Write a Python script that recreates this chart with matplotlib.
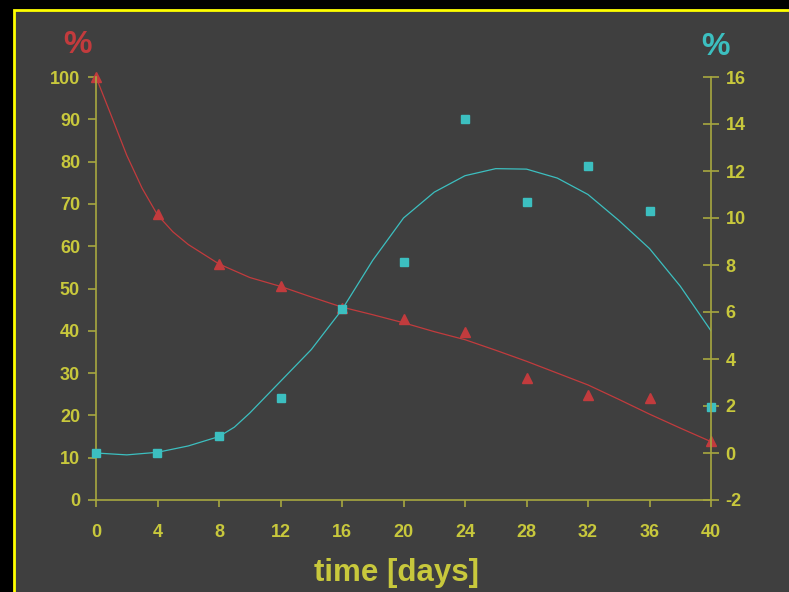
import matplotlib
matplotlib.use("Agg")
import matplotlib.pyplot as plt
from matplotlib.patches import Rectangle

# measured points
dias = [0, 4, 8, 12, 16, 20, 24, 28, 32, 36, 40]
rojo = [100, 67.6, 55.8, 50.6, 45.3, 42.8, 39.7, 28.8, 24.8, 24.1, 13.9]
cian = [0.0, 0.0, 0.72, 2.34, 6.13, 8.13, 14.2, 10.7, 12.2, 10.3, 1.96]

# trend lines
dias_rojo = [0, 1, 2, 3, 4, 5, 6, 8, 10, 12, 14, 16, 18, 20, 22, 24, 26, 28, 30, 32, 34, 36, 38, 40]
tend_rojo = [100, 90.8, 81.5, 73.7, 67.4, 63.4, 60.4, 55.8, 52.6, 50.5, 48.0, 45.6, 43.8, 41.9,
             39.8, 37.9, 35.4, 32.8, 30.0, 27.2, 23.8, 20.3, 17.0, 13.8]
dias_cian = [0, 2, 4, 6, 8, 9, 10, 12, 14, 16, 18, 20, 22, 24, 26, 28, 30, 32, 34, 36, 38, 40]
tend_cian = [0.0, -0.08, 0.03, 0.3, 0.7, 1.1, 1.7, 3.05, 4.4, 6.1, 8.2, 10.0, 11.1, 11.8, 12.1,
             12.08, 11.7, 11.0, 9.9, 8.7, 7.1, 5.2]

x_ticks = list(range(0, 41, 4))
izq_ticks = list(range(0, 101, 10))
der_ticks = list(range(-2, 17, 2))

FONDO = "#3f3f3f"
TEXTO = "#c8c83c"
EJE = "#a8a840"
ROJO = "#c23b3d"
CIAN = "#3cbfc0"

plt.rcParams["font.family"] = ["Liberation Sans", "DejaVu Sans"]
plt.rcParams["font.weight"] = "bold"
plt.rcParams["axes.unicode_minus"] = False

fig = plt.figure(figsize=(7.89, 5.92), dpi=100)
fig.patch.set_facecolor("black")
W, H = 789, 592
fig.patches.append(Rectangle((13.5 / W, -0.1), 1.2, 1 - 10 / H + 0.1,
                             transform=fig.transFigure, facecolor=FONDO,
                             edgecolor="#ffff00", linewidth=2, zorder=-5))

ax = fig.add_axes([96 / W, 1 - 500 / H, 615 / W, 423 / H])
ax.set_facecolor("none")
ax2 = ax.twinx()
ax2.set_facecolor("none")

ax.plot(dias_rojo, tend_rojo, color=ROJO, linewidth=0.9)
ax.plot(dias, rojo, linestyle="none", marker="^", markersize=7, color=ROJO, clip_on=False)
ax2.plot(dias_cian, tend_cian, color=CIAN, linewidth=0.9)
ax2.plot(dias, cian, linestyle="none", marker="s", markersize=5.5, color=CIAN, clip_on=False)

ax.set_xlim(0, 40)
ax.set_ylim(0, 100)
ax2.set_ylim(-2, 16)
ax.set_xticks(x_ticks)
ax.set_yticks(izq_ticks)
ax2.set_yticks(der_ticks)

for a in (ax, ax2):
    a.spines["top"].set_visible(False)
    for s in ("left", "right", "bottom"):
        a.spines[s].set_color(EJE)
        a.spines[s].set_linewidth(1.2)
ax.spines["right"].set_visible(False)
ax2.spines["left"].set_visible(False)
ax2.spines["bottom"].set_visible(False)

ax.tick_params(axis="x", direction="out", length=5, width=1.2, color=EJE,
               labelcolor=TEXTO, labelsize=13, pad=12)
ax.tick_params(axis="y", direction="out", length=6, width=1.2, color=EJE,
               labelcolor=TEXTO, labelsize=13, pad=5.5)
ax2.tick_params(axis="y", direction="inout", length=11, width=1.2, color=EJE,
                labelcolor=TEXTO, labelsize=13, pad=5)
for lbl in ax.get_xticklabels() + ax.get_yticklabels() + ax2.get_yticklabels():
    lbl.set_fontweight("bold")

fig.text(397 / W, 1 - 573 / H, "time [days]", color=TEXTO, fontsize=22.5,
         fontweight="bold", ha="center", va="center")
fig.text(77 / W, 1 - 45 / H, "%", color=ROJO, fontsize=23,
         fontweight="bold", ha="center", va="center")
fig.text(716 / W, 1 - 47 / H, "%", color=CIAN, fontsize=23,
         fontweight="bold", ha="center", va="center")

fig.savefig("out.png", dpi=100, facecolor=fig.get_facecolor())
